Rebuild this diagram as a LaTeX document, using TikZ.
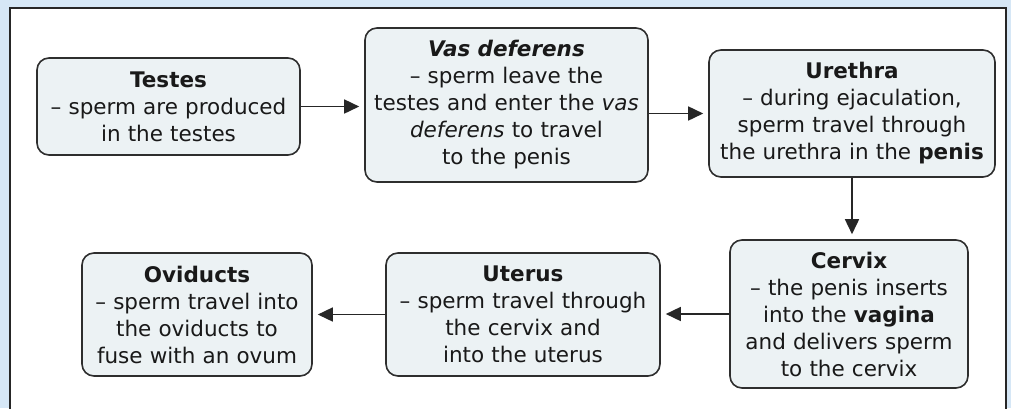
\documentclass[tikz,border=0pt]{standalone}
\usepackage{fontspec}
\setmainfont{DejaVu Sans}
\usetikzlibrary{arrows.meta}
\definecolor{bgblue}{HTML}{D6E7F6}
\definecolor{boxfill}{HTML}{ECF2F4}
\definecolor{boxline}{HTML}{2E2E2E}
\tikzset{
  stage/.style={draw=boxline, line width=1.6pt, fill=boxfill, rounded corners=12pt,
    align=center, inner sep=0pt, font=\fontsize{21.5}{27}\selectfont, text=black!90},
  arr/.style={line width=1.6pt, draw=black!85, -{Triangle[length=15pt,width=14pt]}, shorten >=5pt}
}
\begin{document}
\begin{tikzpicture}[x=1pt,y=-1pt]
\useasboundingbox (0,0) rectangle (1011,408);
\fill[bgblue] (0,0) rectangle (1011,408);
\draw[fill=white, line width=1.5pt, draw=black!85] (10,8) rectangle (1006,420);
\node[stage, minimum width=263pt, minimum height=97pt, text width=259pt] (testes) at (168.5,106.5)
  {\textbf{Testes}\\– sperm are produced\\in the testes};
\node[stage, minimum width=283pt, minimum height=154pt, text width=279pt] (vas) at (506.5,105)
  {\textbf{\itshape Vas deferens}\\– sperm leave the\\testes and enter the \textit{vas}\\\textit{deferens} to travel\\to the penis};
\node[stage, minimum width=286pt, minimum height=127pt, text width=282pt] (urethra) at (852,113.5)
  {\textbf{Urethra}\\– during ejaculation,\\sperm travel through\\the urethra in the \textbf{penis}};
\node[stage, minimum width=238pt, minimum height=148pt, text width=234pt] (cervix) at (849,314)
  {\textbf{Cervix}\\– the penis inserts\\into the \textbf{vagina}\\and delivers sperm\\to the cervix};
\node[stage, minimum width=274pt, minimum height=123pt, text width=270pt] (uterus) at (523,314.5)
  {\textbf{Uterus}\\– sperm travel through\\the cervix and\\into the uterus};
\node[stage, minimum width=230pt, minimum height=123pt, text width=226pt] (oviducts) at (197,314.5)
  {\textbf{Oviducts}\\– sperm travel into\\the oviducts to\\fuse with an ovum};
\draw[arr] (testes.east) -- (testes.east -| vas.west);
\draw[arr] (vas.east |- urethra.west) -- (urethra.west);
\draw[arr] (urethra.south) -- (urethra.south |- cervix.north);
\draw[arr] (cervix.west) -- (cervix.west -| uterus.east);
\draw[arr] (uterus.west) -- (uterus.west -| oviducts.east);
\end{tikzpicture}
\end{document}
